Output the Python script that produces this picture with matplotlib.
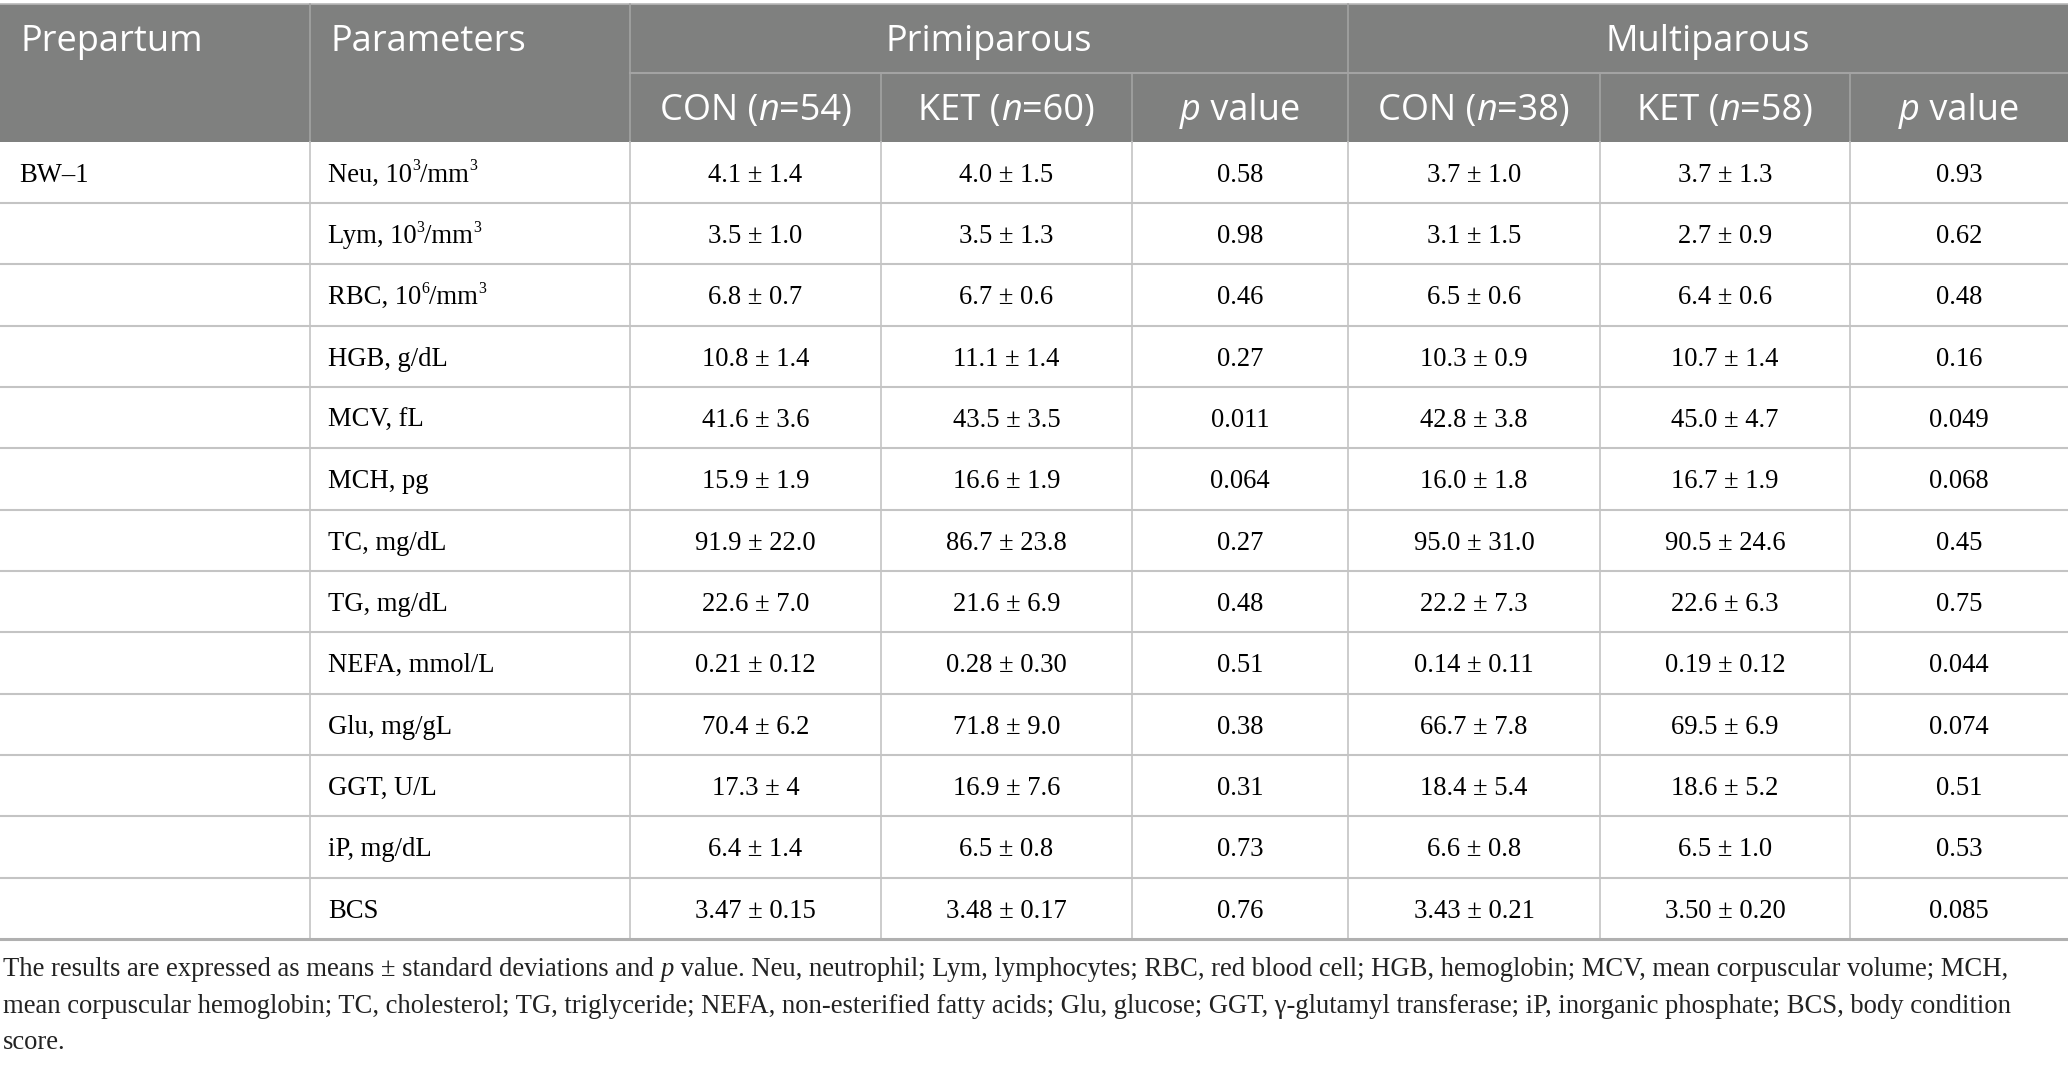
import matplotlib
matplotlib.use("Agg")
import matplotlib.pyplot as plt

W, H = 2068, 1066

# column headers
group_names = ["Primiparous", "Multiparous"]
group_n = [[54, 60], [38, 58]]
period = "BW–1"

# parameters ({x} = superscript)
params = ["Neu, 10{3}/mm{3}", "Lym, 10{3}/mm{3}", "RBC, 10{6}/mm{3}", "HGB, g/dL",
          "MCV, fL", "MCH, pg", "TC, mg/dL", "TG, mg/dL", "NEFA, mmol/L",
          "Glu, mg/gL", "GGT, U/L", "iP, mg/dL", "BCS"]

prim_con = ["4.1 ± 1.4", "3.5 ± 1.0", "6.8 ± 0.7", "10.8 ± 1.4", "41.6 ± 3.6", "15.9 ± 1.9",
            "91.9 ± 22.0", "22.6 ± 7.0", "0.21 ± 0.12", "70.4 ± 6.2", "17.3 ± 4",
            "6.4 ± 1.4", "3.47 ± 0.15"]
prim_ket = ["4.0 ± 1.5", "3.5 ± 1.3", "6.7 ± 0.6", "11.1 ± 1.4", "43.5 ± 3.5", "16.6 ± 1.9",
            "86.7 ± 23.8", "21.6 ± 6.9", "0.28 ± 0.30", "71.8 ± 9.0", "16.9 ± 7.6",
            "6.5 ± 0.8", "3.48 ± 0.17"]
prim_p = ["0.58", "0.98", "0.46", "0.27", "0.011", "0.064", "0.27", "0.48", "0.51",
          "0.38", "0.31", "0.73", "0.76"]
multi_con = ["3.7 ± 1.0", "3.1 ± 1.5", "6.5 ± 0.6", "10.3 ± 0.9", "42.8 ± 3.8", "16.0 ± 1.8",
             "95.0 ± 31.0", "22.2 ± 7.3", "0.14 ± 0.11", "66.7 ± 7.8", "18.4 ± 5.4",
             "6.6 ± 0.8", "3.43 ± 0.21"]
multi_ket = ["3.7 ± 1.3", "2.7 ± 0.9", "6.4 ± 0.6", "10.7 ± 1.4", "45.0 ± 4.7", "16.7 ± 1.9",
             "90.5 ± 24.6", "22.6 ± 6.3", "0.19 ± 0.12", "69.5 ± 6.9", "18.6 ± 5.2",
             "6.5 ± 1.0", "3.50 ± 0.20"]
multi_p = ["0.93", "0.62", "0.48", "0.16", "0.049", "0.068", "0.45", "0.75", "0.044",
           "0.074", "0.51", "0.53", "0.085"]

footnote = [
    [("The results are expressed as means ± standard deviations and ", "n"), ("p", "i"),
     (" value. Neu, neutrophil; Lym, lymphocytes; RBC, red blood cell; HGB, hemoglobin; "
      "MCV, mean corpuscular volume; MCH,", "n")],
    [("mean corpuscular hemoglobin; TC, cholesterol; TG, triglyceride; NEFA, non-esterified "
      "fatty acids; Glu, glucose; GGT, γ-glutamyl transferase; iP, inorganic phosphate; "
      "BCS, body condition", "n")],
    [("score.", "n")],
]

# layout (pixels)
col_x = [0, 310, 630, 881, 1132, 1348, 1600, 1850, 2068]
head_top, head_mid, head_bot = 4, 72.7, 141.5
row_h = 61.35
HEAD_BG = "#7f807f"
HEAD_LINE = "#a3a3a3"
GRID = "#c4c4c4"
SANS = "Open Sans"
SERIF = "Liberation Serif"
HEAD_SIZE = 26
BODY_SIZE = 19.2
FOOT_SIZE = 19.2

fig = plt.figure(figsize=(W / 100, H / 100), dpi=100)
ax = fig.add_axes([0, 0, 1, 1])
ax.set_xlim(0, W)
ax.set_ylim(H, 0)
ax.axis("off")
renderer = fig.canvas.get_renderer()


def draw_runs(x, yc, runs, family, size, color="black", ha="center", cap=0.35):
    """Draw text runs ('n' normal, 'i' italic, 's' superscript) on one baseline."""
    em = size * 100 / 72
    base = yc + cap * em
    items = []
    total = 0
    for txt, sty in runs:
        kw = dict(family=family, color=color, va="baseline", ha="left")
        if sty == "s":
            t = ax.text(0, base - 0.42 * em, txt, fontsize=size * 0.6, **kw)
        else:
            t = ax.text(0, base, txt, fontsize=size,
                        fontstyle="italic" if sty == "i" else "normal", **kw)
        w = t.get_window_extent(renderer).width
        items.append((t, w))
        total += w
    start = x - total / 2 if ha == "center" else x
    for t, w in items:
        t.set_x(start)
        start += w


def parse_label(s):
    runs = []
    buf = ""
    for ch in s:
        if ch == "{":
            if buf:
                runs.append((buf, "n"))
            buf = ""
        elif ch == "}":
            runs.append((buf, "s"))
            buf = ""
        else:
            buf += ch
    if buf:
        runs.append((buf, "n"))
    return runs


# header block
ax.add_patch(plt.Rectangle((0, head_top), W, head_bot - head_top, color=HEAD_BG, lw=0))
ax.plot([0, W], [head_top, head_top], color="#b8b8b8", lw=1.2)
ax.plot([col_x[2], W], [head_mid, head_mid], color=HEAD_LINE, lw=1.5)
for cx in [col_x[1], col_x[2], col_x[5]]:
    ax.plot([cx, cx], [head_top, head_bot], color=HEAD_LINE, lw=1.2)
for cx in [col_x[3], col_x[4], col_x[6], col_x[7]]:
    ax.plot([cx, cx], [head_mid, head_bot], color=HEAD_LINE, lw=1.2)

y1 = (head_top + head_mid) / 2
y2 = (head_mid + head_bot) / 2
draw_runs(col_x[0] + 20, y1, [("Prepartum", "n")], SANS, HEAD_SIZE, "white", ha="left")
draw_runs(col_x[1] + 20, y1, [("Parameters", "n")], SANS, HEAD_SIZE, "white", ha="left")
for g, name in enumerate(group_names):
    c0 = col_x[2 + 3 * g]
    c1 = col_x[5 + 3 * g]
    draw_runs((c0 + c1) / 2, y1, [(name, "n")], SANS, HEAD_SIZE, "white")
    for k, lab in enumerate(["CON", "KET"]):
        xc = (col_x[2 + 3 * g + k] + col_x[3 + 3 * g + k]) / 2
        draw_runs(xc, y2, [(lab + " (", "n"), ("n", "i"), ("=%d)" % group_n[g][k], "n")],
                  SANS, HEAD_SIZE, "white")
    xc = (col_x[4 + 3 * g] + col_x[5 + 3 * g]) / 2
    draw_runs(xc, y2, [("p", "i"), (" value", "n")], SANS, HEAD_SIZE, "white")

# body rows
columns = [prim_con, prim_ket, prim_p, multi_con, multi_ket, multi_p]
n_rows = len(params)
body_bot = head_bot + n_rows * row_h
for i in range(n_rows):
    yc = head_bot + (i + 0.5) * row_h
    if i == 0:
        draw_runs(col_x[0] + 19, yc, [(period, "n")], SERIF, BODY_SIZE, ha="left")
    draw_runs(col_x[1] + 18, yc, parse_label(params[i]), SERIF, BODY_SIZE, ha="left")
    for j, col in enumerate(columns):
        xc = (col_x[2 + j] + col_x[3 + j]) / 2
        draw_runs(xc, yc, [(col[i], "n")], SERIF, BODY_SIZE)
    if i > 0:
        yl = head_bot + i * row_h
        ax.plot([0, W], [yl, yl], color=GRID, lw=1.5)

for cx in col_x[1:-1]:
    ax.plot([cx, cx], [head_bot, body_bot], color=GRID, lw=1.2)
ax.plot([0, W], [body_bot, body_bot], color="#b0b0b0", lw=2.2)

# footnote
for k, line in enumerate(footnote):
    draw_runs(3, 967 + k * 36.5, line, SERIF, FOOT_SIZE, color="#222222", ha="left")

fig.savefig("out.png", dpi=100)
